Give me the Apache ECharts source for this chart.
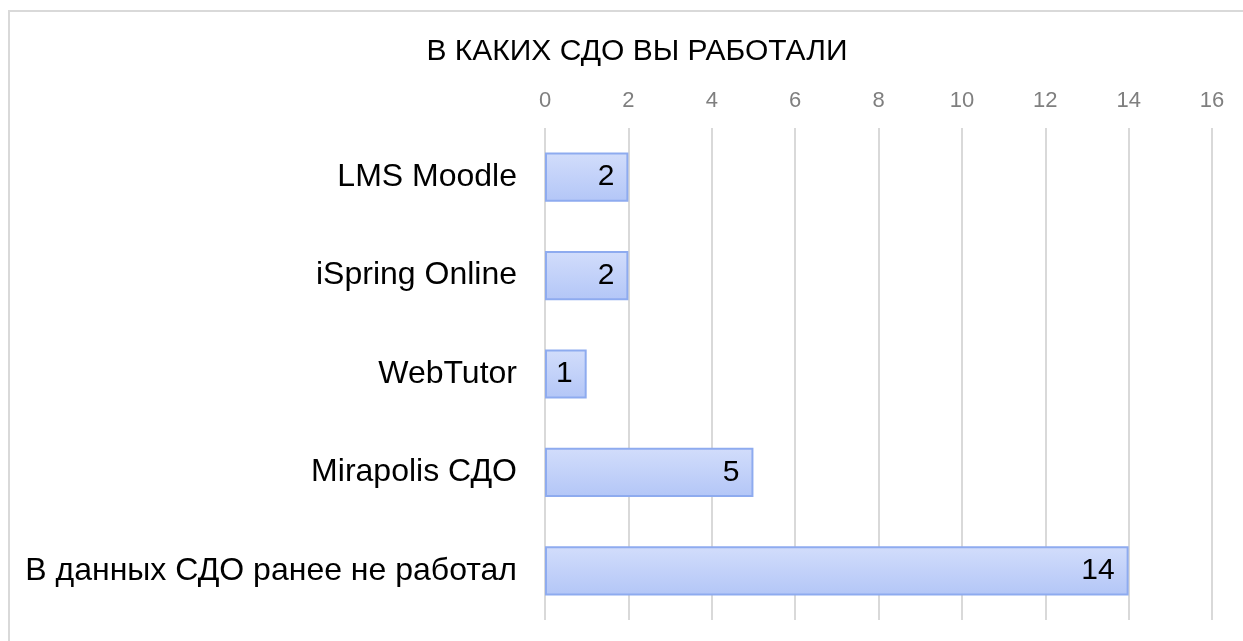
<!DOCTYPE html>
<html><head><meta charset="utf-8">
<script src="https://cdn.jsdelivr.net/npm/echarts@6/dist/echarts.min.js"></script>
<style>html,body{margin:0;padding:0;background:#fff}#c{width:1243px;height:641px}</style>
</head><body><div id="c"></div>
<script>
const categories = ['LMS Moodle','iSpring Online','WebTutor','Mirapolis СДО','В данных СДО ранее не работал'];
const values = [2,2,1,5,14];
const title = 'В КАКИХ СДО ВЫ РАБОТАЛИ';
const chart = echarts.init(document.getElementById('c'));
chart.setOption({
  animation:false,
  backgroundColor:'#fff',
  title:{text:title,left:632,textAlign:'center',top:32,textStyle:{fontFamily:'Liberation Sans, Arial',fontSize:30,fontWeight:'normal',color:'#000'}},
  graphic:[{type:'rect',shape:{x:9,y:11,width:1300,height:700},style:{fill:'none',stroke:'#d9d9d9',lineWidth:2},silent:true}],
  grid:{left:545,right:31,top:128,bottom:21,containLabel:false},
  xAxis:{type:'value',position:'top',min:0,max:16,interval:2,
    axisLine:{show:false},axisTick:{show:false},
    axisLabel:{color:'#7f7f7f',fontFamily:'Liberation Sans, Arial',fontSize:22,margin:16},
    splitLine:{lineStyle:{color:'#d9d9d9',width:2}}},
  yAxis:{type:'category',data:categories,inverse:true,
    axisLine:{show:false},axisTick:{show:false},
    axisLabel:{color:'#000',fontFamily:'Liberation Sans, Arial',fontSize:32,margin:28}},
  series:[{type:'bar',data:values,barWidth:'50%',
    itemStyle:{color:new echarts.graphic.LinearGradient(0,0,0,1,[{offset:0,color:'#d2ddfb'},{offset:1,color:'#b3c6f7'}]),borderColor:'#8eabef',borderWidth:2},
    label:{show:true,position:'insideRight',distance:14,color:'#000',fontFamily:'Liberation Sans, Arial',fontSize:30}}]
});
</script></body></html>
